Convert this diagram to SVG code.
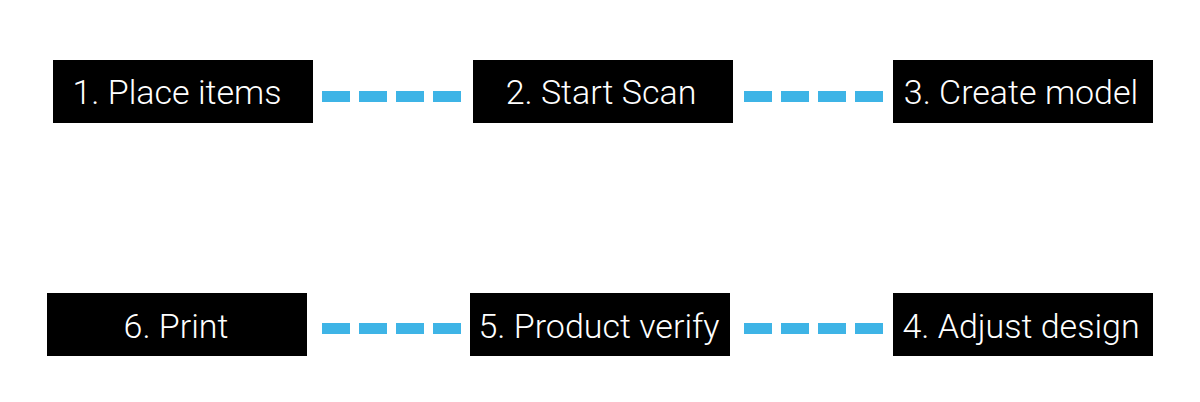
<svg xmlns="http://www.w3.org/2000/svg" width="1200" height="402" viewBox="0 0 1200 402">
<style>
.box{fill:#000}
.t{font-family:Roboto,"Liberation Sans",sans-serif;font-weight:300;font-size:34px;fill:#fff;text-anchor:middle}
.c{stroke:#3eb4e6;stroke-width:11;stroke-dasharray:28 9;fill:none}
</style>
<rect width="1200" height="402" fill="#fff"/>
<g id="connectors">
<line class="c" x1="322" y1="96.5" x2="462" y2="96.5"/>
<line class="c" x1="744" y1="96.5" x2="884" y2="96.5"/>
<line class="c" x1="322" y1="328.5" x2="462" y2="328.5"/>
<line class="c" x1="744" y1="328.5" x2="884" y2="328.5"/>
</g>
<g id="n1"><rect class="box" x="53" y="60" width="260" height="63"/><text class="t" x="177" y="104">1. Place items</text></g>
<g id="n2"><rect class="box" x="473" y="60" width="260" height="63"/><text class="t" x="601" y="104">2. Start Scan</text></g>
<g id="n3"><rect class="box" x="893" y="60" width="260" height="63"/><text class="t" x="1021" y="104">3. Create model</text></g>
<g id="n6"><rect class="box" x="47" y="293" width="260" height="63"/><text class="t" x="176" y="338">6. Print</text></g>
<g id="n5"><rect class="box" x="470" y="293" width="260" height="63"/><text class="t" x="599" y="338">5. Product verify</text></g>
<g id="n4"><rect class="box" x="893" y="293" width="260" height="63"/><text class="t" x="1021" y="338">4. Adjust design</text></g>
</svg>
